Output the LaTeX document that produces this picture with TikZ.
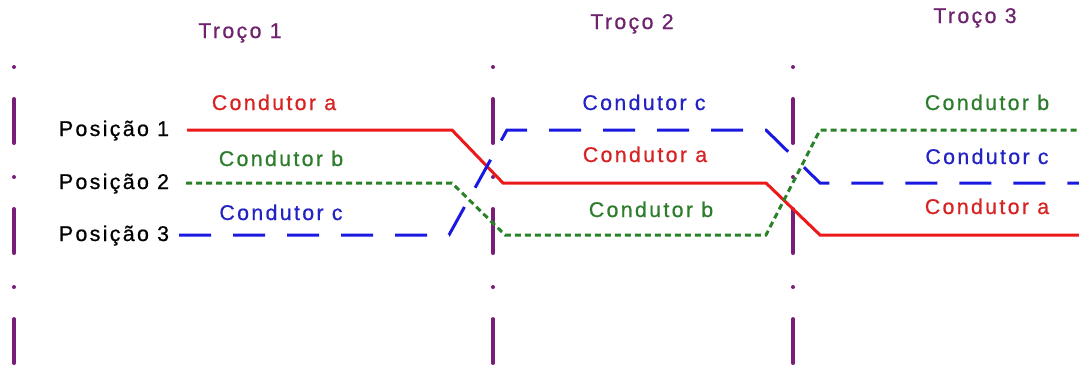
\documentclass[tikz,border=0pt]{standalone}
\usepackage{fontspec}
\setmainfont[LetterSpace=11,FakeBold=0.7]{Liberation Sans}
\definecolor{wred}{RGB}{235,25,25}
\definecolor{wblue}{RGB}{25,25,225}
\definecolor{wgreen}{RGB}{40,130,40}
\definecolor{tred}{RGB}{215,35,35}
\definecolor{tblue}{RGB}{35,35,195}
\definecolor{tgreen}{RGB}{45,125,45}
\definecolor{purp}{RGB}{120,30,120}
\definecolor{tpurp}{RGB}{110,35,110}
\begin{document}
\begin{tikzpicture}[x=0.75pt,y=-0.75pt,
  font=\fontsize{16}{19}\selectfont,
  lbl/.style={anchor=base,inner sep=0pt},
  ttl/.style={lbl,text=tpurp},
  poslbl/.style={lbl,text=black},
  la/.style={lbl,text=tred},
  lb/.style={lbl,text=tgreen},
  lc/.style={lbl,text=tblue},
  wa/.style={draw=wred,line width=2.25pt},
  wb/.style={draw=wgreen,line width=2.25pt,dash pattern=on 4.5pt off 3pt},
  wc/.style={draw=wblue,line width=2.25pt,dash pattern=on 24pt off 16.5pt},
  sep/.style={draw=purp,line width=3pt,line cap=round,dash pattern=on 0.01pt off 24pt on 33pt off 25.5pt}
]
\useasboundingbox (0,0) rectangle (1079,372);

% section separators
\foreach \i/\x in {1/14,2/493,3/793}{
  \coordinate (s\i t) at (\x,67);
  \coordinate (s\i b) at (\x,364);
  \draw[sep] (s\i t) -- (s\i b);
}

% titles
\node[ttl] (t1) at (240,38) {Troço 1};
\node[ttl] (t2) at (632,29) {Troço 2};
\node[ttl] (t3) at (975,23) {Troço 3};

% position labels
\node[poslbl] (p1) at (114,136) {Posição 1};
\node[poslbl] (p2) at (114,189) {Posição 2};
\node[poslbl] (p3) at (114,241) {Posição 3};

% conductor labels
\node[la] (a1) at (274,110) {Condutor a};
\node[lb] (b1) at (281,166) {Condutor b};
\node[lc] (c1) at (281,220) {Condutor c};
\node[lc] (c2) at (644,110) {Condutor c};
\node[la] (a2) at (645,162) {Condutor a};
\node[lb] (b2) at (651,217) {Condutor b};
\node[lb] (b3) at (987,110) {Condutor b};
\node[lc] (c3) at (987,164) {Condutor c};
\node[la] (a3) at (987,214) {Condutor a};

% wire vertices
\coordinate (ra0) at (187,130);
\coordinate (ra1) at (452,130);
\coordinate (ra2) at (503,183);
\coordinate (ra3) at (766,183);
\coordinate (ra4) at (820,235);
\coordinate (ra5) at (1079,235);

\coordinate (rb0) at (186,183);
\coordinate (rb1) at (452,183);
\coordinate (rb2) at (505,235);
\coordinate (rb3) at (766,235);
\coordinate (rb4) at (820,130);
\coordinate (rb5) at (1079,130);

\coordinate (rc0) at (179,235);
\coordinate (rc1) at (449,235);
\coordinate (rc2) at (507,130);
\coordinate (rc3) at (766,130);
\coordinate (rc4) at (820,183);
\coordinate (rc5) at (1079,183);

\draw[wa] (ra0) -- (ra1) -- (ra2) -- (ra3) -- (ra4) -- (ra5);
\draw[wb] (rb0) -- (rb1) -- (rb2) -- (rb3) -- (rb4) -- (rb5);
\draw[wc] (rc0) -- (rc1) -- (rc2) -- (rc3) -- (rc4) -- (rc5);
\end{tikzpicture}
\end{document}
